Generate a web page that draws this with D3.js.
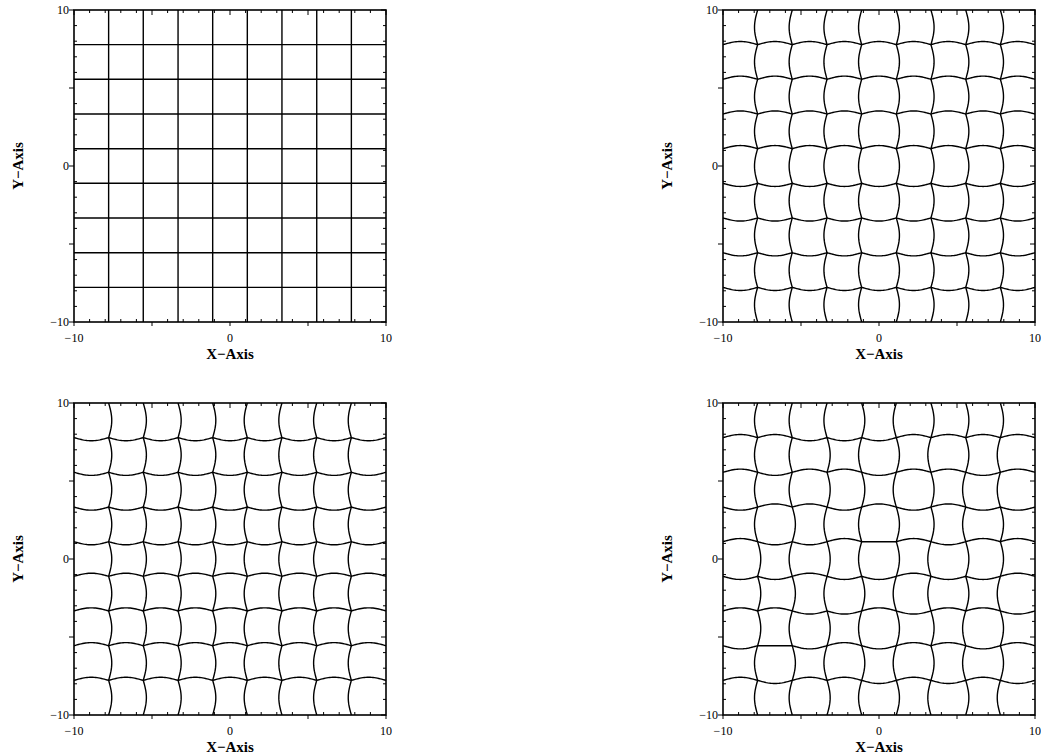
<!DOCTYPE html>
<html>
<head>
<meta charset="utf-8">
<script src="https://cdn.jsdelivr.net/npm/d3@7"></script>
<style>
  body { margin: 0; background: #fff; }
  text { font-family: "Liberation Serif", "Times New Roman", serif; fill: #000; }
</style>
</head>
<body>
<div id="vis"></div>
<script>
// grid line positions (interior lines) and segment bounds
const gridLines = [-7.78, -5.56, -3.33, -1.11, 1.11, 3.33, 5.56, 7.78];
const segBounds = [-10, -7.78, -5.56, -3.33, -1.11, 1.11, 3.33, 5.56, 7.78, 10];
const tickLabels = [-10, 0, 10];
const majorTicks = [-10, -5, 0, 5, 10];
const minorTicks = d3.range(-9, 10).filter(d => d % 5 !== 0);
const bulgeSize = 0.2;

// bulge direction of each line (same for all its segments)
const flatLines = [0, 0, 0, 0, 0, 0, 0, 0];
const outwardLines = [-1, -1, -1, -1, 1, 1, 1, 1];
const inwardLines = [1, 1, 1, 1, -1, -1, -1, -1];

// panel 4: bulge direction per segment (rows = lines from -7.78 up, cols = segments from -10 up)
const mixedV = [
  [-1, -1, 1, 1, 1, -1, -1, -1, -1],
  [-1, 1, -1, 1, -1, 1, -1, -1, -1],
  [1, -1, 1, -1, 1, -1, 1, 1, -1],
  [-1, 1, -1, 1, -1, -1, 1, -1, 1],
  [1, -1, 1, -1, 1, 1, -1, 1, -1],
  [-1, 1, 1, -1, -1, 1, 1, -1, 1],
  [1, -1, -1, 1, 1, -1, -1, 1, 1],
  [-1, 1, 1, -1, 1, 1, -1, -1, 1]
];
const mixedH = [
  [1, -1, 1, 1, -1, 1, -1, 1, -1],
  [-1, 0, -1, 1, -1, 1, 1, -1, 1],
  [1, 1, -1, -1, 1, -1, 1, 1, -1],
  [-1, -1, 1, -1, -1, 1, -1, -1, 1],
  [1, -1, -1, 1, 0, 1, -1, 1, 1],
  [-1, 1, 1, -1, 1, -1, 1, -1, -1],
  [1, -1, 1, 1, -1, 1, 1, -1, 1],
  [1, 1, -1, -1, -1, 1, 1, 1, 1]
];

const perLine = arr => arr.map(s => d3.range(9).map(() => s));

const panels = [
  { left: 74, top: 10, v: perLine(flatLines), h: perLine(flatLines) },
  { left: 723, top: 10, v: perLine(outwardLines), h: perLine(outwardLines) },
  { left: 74, top: 403, v: perLine(inwardLines), h: perLine(inwardLines) },
  { left: 723, top: 403, v: mixedV, h: mixedH }
];

const W = 1041, H = 756, size = 312;

const svg = d3.select("#vis").append("svg")
  .attr("width", W).attr("height", H);

const line = d3.line();
const fmt = v => v < 0 ? "\u2212" + Math.abs(v) : String(v);

panels.forEach((p, pi) => {
  const x = d3.scaleLinear().domain([-10, 10]).range([0, size]);
  const y = d3.scaleLinear().domain([-10, 10]).range([size, 0]);
  const g = svg.append("g").attr("transform", `translate(${p.left},${p.top})`);

  g.append("clipPath").attr("id", "clip" + pi)
    .append("rect").attr("width", size).attr("height", size);

  const lines = g.append("g").attr("clip-path", `url(#clip${pi})`)
    .attr("fill", "none").attr("stroke", "#000").attr("stroke-width", 1.4);

  const steps = d3.range(0, 1.0001, 1 / 24);

  gridLines.forEach((c, i) => {
    // vertical line at x = c
    let pts = [];
    for (let s = 0; s < 9; s++) {
      const a = segBounds[s], b = segBounds[s + 1];
      steps.forEach(t => {
        if (s > 0 && t === 0) return;
        const off = bulgeSize * p.v[i][s] * Math.sin(Math.PI * t);
        pts.push([x(c + off), y(a + (b - a) * t)]);
      });
    }
    lines.append("path").attr("d", line(pts));

    // horizontal line at y = c
    pts = [];
    for (let s = 0; s < 9; s++) {
      const a = segBounds[s], b = segBounds[s + 1];
      steps.forEach(t => {
        if (s > 0 && t === 0) return;
        const off = bulgeSize * p.h[i][s] * Math.sin(Math.PI * t);
        pts.push([x(a + (b - a) * t), y(c + off)]);
      });
    }
    lines.append("path").attr("d", line(pts));
  });

  // frame
  g.append("rect").attr("width", size).attr("height", size)
    .attr("fill", "none").attr("stroke", "#000").attr("stroke-width", 1.6);

  const ticks = g.append("g").attr("stroke", "#000").attr("stroke-width", 1);
  minorTicks.forEach(v => {
    ticks.append("line").attr("x1", x(v)).attr("x2", x(v)).attr("y1", size).attr("y2", size - 3);
    ticks.append("line").attr("x1", x(v)).attr("x2", x(v)).attr("y1", 0).attr("y2", 3);
    ticks.append("line").attr("y1", y(v)).attr("y2", y(v)).attr("x1", 0).attr("x2", 3);
    ticks.append("line").attr("y1", y(v)).attr("y2", y(v)).attr("x1", size).attr("x2", size - 3);
  });
  majorTicks.forEach(v => {
    ticks.append("line").attr("x1", x(v)).attr("x2", x(v)).attr("y1", size).attr("y2", size + 4);
    ticks.append("line").attr("x1", x(v)).attr("x2", x(v)).attr("y1", 0).attr("y2", 5);
    ticks.append("line").attr("y1", y(v)).attr("y2", y(v)).attr("x1", 0).attr("x2", -5);
    ticks.append("line").attr("y1", y(v)).attr("y2", y(v)).attr("x1", size).attr("x2", size - 5);
  });

  tickLabels.forEach(v => {
    g.append("text").attr("x", x(v)).attr("y", size + 20)
      .attr("text-anchor", "middle").attr("font-size", 12)
      .text(fmt(v));
    g.append("text").attr("x", -5).attr("y", y(v) + 4)
      .attr("text-anchor", "end").attr("font-size", 12)
      .text(fmt(v));
  });

  g.append("text").attr("x", size / 2).attr("y", size + 37)
    .attr("text-anchor", "middle").attr("font-size", 15).attr("font-weight", "bold")
    .text("X\u2212Axis");
  g.append("text")
    .attr("transform", `translate(${-51},${size / 2}) rotate(-90)`)
    .attr("text-anchor", "middle").attr("font-size", 15).attr("font-weight", "bold")
    .text("Y\u2212Axis");
});
</script>
</body>
</html>
